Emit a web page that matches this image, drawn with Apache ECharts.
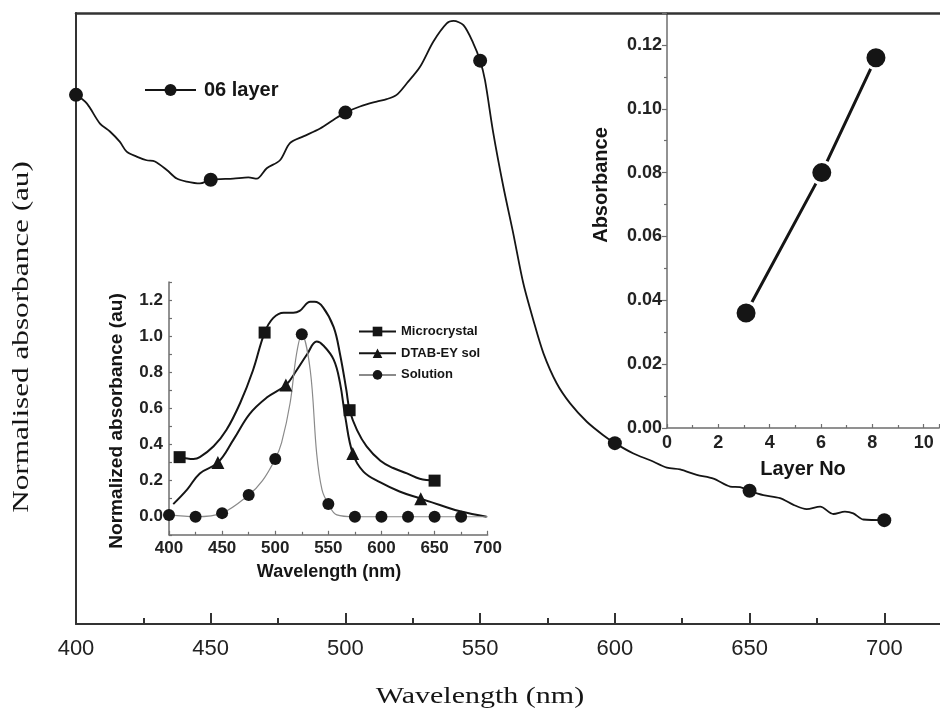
<!DOCTYPE html>
<html>
<head>
<meta charset="utf-8">
<script src="https://cdn.jsdelivr.net/npm/echarts@6/dist/echarts.min.js"></script>
<style>html,body{margin:0;padding:0;background:#fff}#c{width:940px;height:709px}</style>
</head>
<body>
<div id="c"></div>
<script>
// ---- Main spectrum (06 layer) ----
const mainWl = [400,404,408.9,412.6,416.3,418.8,422.5,426.2,429.3,433.7,437.4,441.1,446,450,458.4,464,467.1,470.8,475.7,479.4,484.4,490.6,495.5,500,505.4,511.6,515.3,519,522.8,527.7,532.6,537.6,540.1,543.8,547.5,550,551.8,554.9,558.6,562.3,566,569.7,573.5,578.4,583.4,589.6,595.7,600,606.9,613.1,619.3,624.2,630.4,636.6,642.8,646.5,650,655.1,661.3,666.3,671.2,676.2,681.1,685.4,688.5,692.2,700];
const mainAbs = [0.866,0.852,0.819,0.806,0.789,0.773,0.765,0.759,0.757,0.743,0.729,0.724,0.721,0.727,0.729,0.731,0.729,0.746,0.759,0.787,0.798,0.811,0.825,0.837,0.847,0.855,0.859,0.866,0.885,0.912,0.953,0.983,0.987,0.980,0.950,0.922,0.890,0.803,0.716,0.639,0.558,0.498,0.443,0.394,0.361,0.331,0.309,0.296,0.279,0.268,0.256,0.253,0.244,0.238,0.225,0.224,0.218,0.211,0.206,0.195,0.188,0.192,0.180,0.184,0.181,0.171,0.170];
const mainMarkers = [400,450,500,550,600,650,700];

// ---- Left inset spectra ----
const microWl = [410,423,429,442,454,467,479,490,498,508,517,523,533,537,545,555,561,567,570,577,586,599,611,624,636,650];
const microAbs = [0.33,0.32,0.33,0.39,0.48,0.63,0.81,1.02,1.10,1.13,1.13,1.14,1.19,1.19,1.16,1.05,0.90,0.70,0.59,0.48,0.39,0.31,0.27,0.24,0.21,0.20];
const microMarkers = [410,490,570,650];

const dtabWl = [404,417,429,446,461,476,492,510,520,530,539,545,555,561,566,573,583,599,617,637,655,674,699];
const dtabAbs = [0.07,0.15,0.24,0.30,0.43,0.57,0.66,0.73,0.81,0.90,0.97,0.95,0.87,0.74,0.55,0.35,0.25,0.19,0.14,0.10,0.065,0.03,0.0];
const dtabMarkers = [446,510,573,637];

const solWl = [400,425,450,475,488,500,506,514,520,525,533,539,544,550,558,575,600,625,650,675,700];
const solAbs = [0.01,0.0,0.02,0.12,0.20,0.32,0.41,0.63,0.90,1.01,0.81,0.35,0.15,0.07,0.01,0.0,0.0,0.0,0.0,0.0,0.0];
const solMarkers = [400,425,450,475,500,525,550,575,600,625,650,675];

// ---- Right inset: absorbance vs layers ----
const layerNo = [3.08, 6.03, 8.14];
const layerAbs = [0.036, 0.080, 0.116];

function mk(xs, ys, markers, sym) {
  return xs.map((x, i) => ({ value: [x, ys[i]], symbol: markers.indexOf(x) >= 0 ? sym : 'none' }));
}

const SANS = 'Liberation Sans, Arial, sans-serif';
const SERIF = 'Liberation Serif, Times New Roman, serif';
const INK = '#151515';
const AX = '#6e6e6e';

const chart = echarts.init(document.getElementById('c'), null, { renderer: 'canvas' });

const option = {
  backgroundColor: '#fff',
  animation: false,
  grid: [
    { left: 76, top: 13, width: 943, height: 611, outerBoundsMode: 'none', containLabel: false },
    { left: 169, top: 282, width: 318.7, height: 252.8, outerBoundsMode: 'none' },
    { left: 667, top: 13, width: 272.1, height: 415, outerBoundsMode: 'none' }
  ],
  xAxis: [
    { gridIndex: 0, type: 'value', min: 400, max: 750, interval: 50,
      axisLine: { show: true, lineStyle: { color: '#333', width: 2 } },
      axisTick: { show: true, inside: true, length: 11, lineStyle: { color: '#333', width: 2 } },
      minorTick: { show: true, splitNumber: 2, length: 6, lineStyle: { color: '#333', width: 2 } },
      splitLine: { show: false },
      axisLabel: { show: true, margin: 14, fontSize: 22, fontFamily: SANS, color: '#222' } },
    { gridIndex: 0, type: 'value', position: 'top', min: 400, max: 750,
      axisLine: { show: true, lineStyle: { color: '#333', width: 2.5 } },
      axisTick: { show: false }, axisLabel: { show: false }, splitLine: { show: false } },
    { gridIndex: 1, type: 'value', min: 400, max: 700, interval: 50,
      axisLine: { show: true, onZero: false, lineStyle: { color: AX, width: 1.5 } },
      axisTick: { show: true, inside: true, length: 4, lineStyle: { color: AX, width: 1.2 } },
      minorTick: { show: true, splitNumber: 2, length: 3, lineStyle: { color: AX, width: 1.2 } },
      splitLine: { show: false },
      axisLabel: { margin: 5, fontSize: 17, fontWeight: 'bold', fontFamily: SANS, color: '#222' } },
    { gridIndex: 2, type: 'value', min: 0, max: 10.6, interval: 2,
      axisLine: { show: true, onZero: false, lineStyle: { color: AX, width: 1.5 } },
      axisTick: { show: true, inside: true, length: 4, lineStyle: { color: AX, width: 1.2 } },
      minorTick: { show: true, splitNumber: 2, length: 3, lineStyle: { color: AX, width: 1.2 } },
      splitLine: { show: false },
      axisLabel: { margin: 6, fontSize: 18, fontWeight: 'bold', fontFamily: SANS, color: '#222', showMaxLabel: false } }
  ],
  yAxis: [
    { gridIndex: 0, type: 'value', min: 0, max: 1,
      axisLine: { show: true, lineStyle: { color: '#333', width: 2 } },
      axisTick: { show: false }, axisLabel: { show: false }, splitLine: { show: false } },
    { gridIndex: 1, type: 'value', min: -0.1, max: 1.3, interval: 0.1,
      axisLine: { show: true, onZero: false, lineStyle: { color: AX, width: 1.5 } },
      axisTick: { show: true, inside: true, length: 3, lineStyle: { color: AX, width: 1.2 } },
      splitLine: { show: false },
      axisLabel: { margin: 6, fontSize: 17, fontWeight: 'bold', fontFamily: SANS, color: '#222',
        formatter: function (v) {
          const k = Math.round(v * 10);
          if (k < 0 || k > 12 || k % 2 !== 0) return '';
          return (k / 10).toFixed(1);
        } } },
    { gridIndex: 2, type: 'value', min: 0, max: 0.13, interval: 0.02,
      axisLine: { show: true, lineStyle: { color: AX, width: 1.5 } },
      axisTick: { show: true, length: 5, lineStyle: { color: AX, width: 1.2 } },
      minorTick: { show: true, splitNumber: 2, length: 3, lineStyle: { color: AX, width: 1.2 } },
      splitLine: { show: false },
      axisLabel: { margin: 5, fontSize: 18, fontWeight: 'bold', fontFamily: SANS, color: '#222', showMaxLabel: false,
        formatter: function (v) { return v.toFixed(2); } } }
  ],
  legend: [
    { data: ['06 layer'], left: 144, top: 80, padding: 0, itemWidth: 51, itemHeight: 15,
      textStyle: { fontSize: 20, fontWeight: 'bold', fontFamily: SANS, color: INK, padding: [0, 0, 0, 3] } },
    { data: ['Microcrystal', 'DTAB-EY sol', 'Solution'], orient: 'vertical', left: 358, top: 325, padding: 0,
      itemWidth: 37, itemHeight: 12, itemGap: 8.7,
      textStyle: { fontSize: 13, fontWeight: 'bold', fontFamily: SANS, color: INK } }
  ],
  series: [
    { name: '06 layer', type: 'line', xAxisIndex: 0, yAxisIndex: 0, symbol: 'circle', symbolSize: 14,
      smooth: 0.3, clip: false, data: mk(mainWl, mainAbs, mainMarkers, 'circle'),
      lineStyle: { color: INK, width: 1.8 }, itemStyle: { color: INK } },
    { name: 'Microcrystal', type: 'line', xAxisIndex: 2, yAxisIndex: 1, symbol: 'rect', symbolSize: 12,
      smooth: 0.4, data: mk(microWl, microAbs, microMarkers, 'rect'),
      lineStyle: { color: INK, width: 2 }, itemStyle: { color: INK } },
    { name: 'DTAB-EY sol', type: 'line', xAxisIndex: 2, yAxisIndex: 1, symbol: 'triangle', symbolSize: 13,
      smooth: 0.4, data: mk(dtabWl, dtabAbs, dtabMarkers, 'triangle'),
      lineStyle: { color: INK, width: 2 }, itemStyle: { color: INK } },
    { name: 'Solution', type: 'line', xAxisIndex: 2, yAxisIndex: 1, symbol: 'circle', symbolSize: 12,
      smooth: 0.35, data: mk(solWl, solAbs, solMarkers, 'circle'),
      lineStyle: { color: '#8a8a8a', width: 1.2 }, itemStyle: { color: INK } },
    { name: 'Layers', type: 'line', xAxisIndex: 3, yAxisIndex: 2, symbol: 'circle', symbolSize: 22,
      data: layerNo.map((x, i) => [x, layerAbs[i]]),
      lineStyle: { color: INK, width: 3 }, itemStyle: { color: INK, borderColor: '#fff', borderWidth: 3 } }
  ],
  graphic: [
    { type: 'text', x: 22, y: 337, rotation: Math.PI / 2, scaleX: 1.3,
      style: { text: 'Normalised absorbance (au)', font: '24px ' + SERIF, fill: INK, align: 'center', verticalAlign: 'middle' } },
    { type: 'text', x: 480, y: 697, scaleX: 1.25,
      style: { text: 'Wavelength (nm)', font: '24px ' + SERIF, fill: INK, align: 'center', verticalAlign: 'middle' } },
    { type: 'text', x: 117, y: 421, rotation: Math.PI / 2, scaleX: 1.06,
      style: { text: 'Normalized absorbance (au)', font: 'bold 18px ' + SANS, fill: INK, align: 'center', verticalAlign: 'middle' } },
    { type: 'text', x: 329, y: 572,
      style: { text: 'Wavelength (nm)', font: 'bold 18px ' + SANS, fill: INK, align: 'center', verticalAlign: 'middle' } },
    { type: 'text', x: 601, y: 185, rotation: Math.PI / 2,
      style: { text: 'Absorbance', font: 'bold 20px ' + SANS, fill: INK, align: 'center', verticalAlign: 'middle' } },
    { type: 'text', x: 803, y: 469,
      style: { text: 'Layer No', font: 'bold 20px ' + SANS, fill: INK, align: 'center', verticalAlign: 'middle' } }
  ]
};
chart.setOption(option);
</script>
</body>
</html>
